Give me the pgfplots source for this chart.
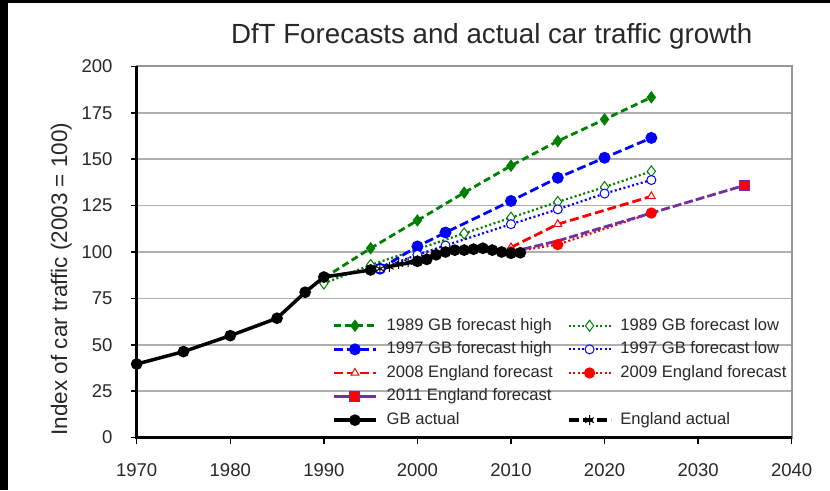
\documentclass[border=0pt]{standalone}
\usepackage{fontspec}
\setmainfont{Liberation Sans}
\usepackage{pgfplots}
\pgfplotsset{compat=1.18}
\definecolor{fgreen}{RGB}{0,128,0}
\definecolor{fblue}{RGB}{0,0,255}
\definecolor{fred}{RGB}{255,0,0}
\definecolor{fpurple}{RGB}{112,48,160}
\definecolor{gridgray}{RGB}{175,175,175}
\definecolor{framegray}{RGB}{150,150,150}
\definecolor{txt}{RGB}{40,40,40}

\begin{document}
\begin{tikzpicture}[x=1pt,y=1pt]
\useasboundingbox (0,0) rectangle (830,490);
\fill[white] (0,0) rectangle (830,490);
\fill[black] (0,0) rectangle (8,490);
\fill[black] (0,487) rectangle (830,490);
\begin{axis}[
    at={(136.7pt,52.5pt)}, anchor=south west,
    scale only axis, width=655pt, height=371pt,
    xmin=1970, xmax=2040, ymin=0, ymax=200,
    xtick={1970,1980,...,2040}, ytick={0,25,...,200},
    clip=false,
    axis line style={framegray, line width=2pt},
    tick pos=left, tick align=outside,
    major tick length=6pt,
    tick style={black, line width=1.5pt},
    ymajorgrids=true,
    grid style={gridgray, line width=1.5pt},
    ticklabel style={font=\fontsize{18.5}{22}\selectfont, text=txt},
    /pgf/number format/assume math mode=true,
    /pgf/number format/1000 sep={},
    xticklabel style={anchor=north, inner sep=0pt, yshift=-20pt},
    yticklabel style={anchor=east, inner sep=0pt, xshift=-18pt},
    title={DfT Forecasts and actual car traffic growth},
    title style={font=\fontsize{27.7}{32}\selectfont, text=txt, inner sep=0pt,
        at={(axis description cs:0.542,1)}, anchor=base, yshift=16.7pt},
    ylabel={Index of car traffic (2003 = 100)},
    ylabel style={font=\fontsize{22.5}{26}\selectfont, text=txt, inner sep=0pt,
        at={(axis description cs:-0.1064,0.427)}, anchor=base},
    legend columns=2, legend cell align=left,
    legend image code/.code={\draw[mark repeat=2,mark phase=2] plot coordinates {(0pt,0pt) (21pt,0pt) (42pt,0pt)};},
    legend style={at={(axis description cs:0.2936,0.328)}, anchor=north west,
        draw=none, fill=none, text=txt,
        font=\fontsize{16.6}{20}\selectfont,
        nodes={inner sep=0pt, text height=12pt, text depth=3.5pt},
        row sep=8.1pt,
        /tikz/column 1/.style={column sep=9pt},
        /tikz/column 2/.style={column sep=14pt},
        /tikz/column 3/.style={column sep=8pt}},
]
% 1989 GB forecast high
\addplot[fgreen, line width=2.8pt, dash pattern=on 7pt off 4pt,
    mark=diamond*, mark size=5.5pt, mark options={solid, fill=fgreen, line width=1pt}]
    coordinates {(1990,86) (1995,102) (2000,117) (2005,132) (2010,146.5) (2015,159.8) (2020,171.5) (2025,183.4)};
\addlegendentry{1989 GB forecast high}
% 1989 GB forecast low
\addplot[fgreen, line width=2.2pt, dash pattern=on 2pt off 2.5pt,
    mark=diamond*, mark size=5.5pt, mark options={solid, fill=white, line width=1pt}]
    coordinates {(1990,83) (1995,93) (2000,101.5) (2005,110) (2010,118.5) (2015,127) (2020,135) (2025,143.5)};
\addlegendentry{1989 GB forecast low}
% 1997 GB forecast high
\addplot[fblue, line width=2.8pt, dash pattern=on 9pt off 4pt,
    mark=*, mark size=4.5pt, mark options={solid, fill=fblue}]
    coordinates {(1996,91) (2000,103) (2003,110.5) (2010,127.5) (2015,140) (2020,150.8) (2025,161.5)};
\addlegendentry{1997 GB forecast high}
% 1997 GB forecast low
\addplot[fblue, line width=2.2pt, dash pattern=on 2pt off 2.5pt,
    mark=*, mark size=4.5pt, mark options={solid, fill=white, line width=1pt}]
    coordinates {(1996,91) (2000,98.5) (2003,103.5) (2010,115) (2015,123) (2020,131.5) (2025,138.8)};
\addlegendentry{1997 GB forecast low}
% 2008 England forecast
\addplot[fred, line width=2.8pt, dash pattern=on 9pt off 4pt,
    mark=triangle*, mark size=4.5pt, mark options={solid, fill=white, line width=1pt}]
    coordinates {(2010,102.5) (2015,115) (2025,130)};
\addlegendentry{2008 England forecast}
% 2009 England forecast
\addplot[fred, line width=2.2pt, dash pattern=on 2pt off 2.5pt,
    mark=*, mark size=4.5pt, mark options={solid, fill=fred}]
    coordinates {(2010,100) (2015,104) (2025,121)};
\addlegendentry{2009 England forecast}
% 2011 England forecast
\addplot[fpurple, line width=2.8pt, dash pattern=on 9pt off 3pt, forget plot]
    coordinates {(2010,100) (2015,106) (2025,121) (2035,136)};
\addplot[only marks, mark=square*, mark size=5pt, mark options={fill=fred, draw=fpurple, line width=1pt}, forget plot]
    coordinates {(2035,136)};
\addlegendimage{fpurple, line width=3pt, mark=square*, mark size=5pt, mark options={fill=fred, draw=fpurple, line width=1pt}}
\addlegendentry{2011 England forecast}
\addlegendimage{empty legend}
\addlegendentry{}
% England actual
\addplot[black, line width=3pt, dash pattern=on 10pt off 4pt,
    mark=asterisk, mark size=5pt, mark options={solid, line width=1pt}, forget plot]
    coordinates {(1996,91) (1997,92) (1998,93.5) (1999,94.5) (2000,95.5) (2001,97) (2002,99) (2003,100) (2004,101) (2005,101.5) (2006,102) (2007,102.5) (2008,101.5) (2009,100.5) (2010,100)};
% GB actual
\addplot[black, line width=3.5pt, mark=*, mark size=4pt, mark options={solid, fill=black}]
    coordinates {(1970,39.6) (1975,46.3) (1980,54.9) (1985,64.3) (1988,78.3) (1990,86.5) (1995,90.3) (2000,95) (2001,96) (2002,98.5) (2003,100) (2004,101) (2005,101) (2006,101.5) (2007,102) (2008,101) (2009,100) (2010,99.3) (2011,99.6)};
\addlegendentry{GB actual}
\addlegendimage{black, line width=3.5pt, dash pattern=on 10pt off 4pt, mark=asterisk, mark size=5pt, mark options={solid, line width=1pt}}
\addlegendentry{England actual}
\draw[black, line width=3.5pt] (rel axis cs:0,1) -- (rel axis cs:0,0) -- (rel axis cs:1,0);
\end{axis}
\end{tikzpicture}
\end{document}
